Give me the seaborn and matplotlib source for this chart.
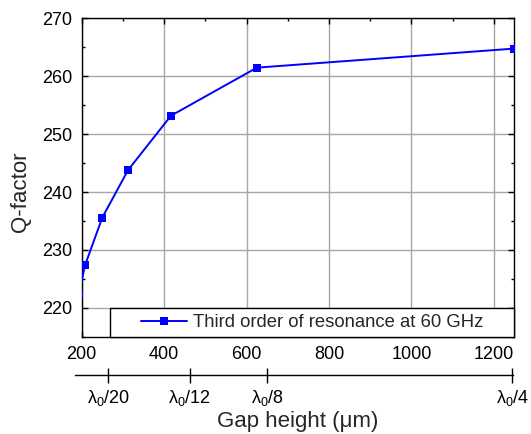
import matplotlib
matplotlib.use("Agg")
import matplotlib.pyplot as plt
from matplotlib.patches import Rectangle
from matplotlib.ticker import MultipleLocator, FixedLocator
import seaborn as sns

# gap height (um) and simulated Q-factor, third order resonance at 60 GHz
gap_um = [192.3, 208.3, 250.0, 312.5, 416.7, 625.0, 1250.0]
q_factor = [222.3, 227.4, 235.6, 243.8, 253.2, 261.5, 264.8]
series_name = "Third order of resonance at 60 GHz"

# secondary wavelength-fraction scale drawn under the x axis
lam_pos = [264.5, 462.5, 651.0, 1246.0]
lam_labels = [r"$\mathregular{\lambda_0}$/20", r"$\mathregular{\lambda_0}$/12",
              r"$\mathregular{\lambda_0}$/8", r"$\mathregular{\lambda_0}$/4"]

sns.set_style("ticks")
plt.rcParams["font.family"] = ["Liberation Sans", "DejaVu Sans"]
plt.rcParams["mathtext.fontset"] = "custom"
plt.rcParams["mathtext.rm"] = "Liberation Sans"
plt.rcParams["mathtext.it"] = "Liberation Sans"

fig = plt.figure(figsize=(5.31, 4.34), dpi=100)
ax = fig.add_axes([0.1539, 0.2242, 0.8147, 0.7332])

sns.lineplot(x=gap_um, y=q_factor, ax=ax, color="#0000ff", marker="s",
             markersize=5.5, markeredgewidth=0, linewidth=1.4, sort=False,
             label=series_name, zorder=4)

ax.set_xlim(200, 1250)
ax.set_ylim(215, 270)
ax.xaxis.set_major_locator(MultipleLocator(200))
ax.xaxis.set_minor_locator(MultipleLocator(100))
ax.yaxis.set_major_locator(MultipleLocator(10))
ax.yaxis.set_minor_locator(MultipleLocator(5))
ax.grid(True, which="major", color="#a8a8a8", linewidth=1.0)
ax.set_axisbelow(True)

ax.tick_params(which="both", direction="in", top=True, right=True,
               labelsize=13, colors="black", width=1.0)
ax.tick_params(which="major", length=4, pad=7)
ax.tick_params(which="minor", length=2.2)
for s in ax.spines.values():
    s.set_color("black")
    s.set_linewidth(1.0)

ax.set_ylabel("Q-factor", fontsize=16)
ax.yaxis.set_label_coords(-0.117, 0.456)
ax.set_xlabel("Gap height (\u03bcm)", fontsize=16)
ax.xaxis.set_label_coords(0.5, -0.235)

# legend box spanning the bottom of the plot
x0 = 0.0654
h = 0.0894
ax.add_patch(Rectangle((x0, 0), 1 - x0, h, transform=ax.transAxes,
                       facecolor="white", edgecolor="black", linewidth=1.0,
                       zorder=5, clip_on=False))
leg = ax.legend(loc="center", bbox_to_anchor=(x0, 0, 1 - x0, h),
                frameon=False, fontsize=13.3, handlelength=2.5,
                handletextpad=0.36, borderpad=0)
leg.set_zorder(6)

# lambda scale
ax2 = fig.add_axes([75 / 531, 1 - 375 / 434, 438.3 / 531, 0.001])
ax2.set_xlim(183.8, 1248.5)
ax2.set_ylim(0, 1)
for side in ["top", "left", "right"]:
    ax2.spines[side].set_visible(False)
ax2.spines["bottom"].set_color("black")
ax2.spines["bottom"].set_linewidth(1.0)
ax2.patch.set_alpha(0)
ax2.set_yticks([])
ax2.xaxis.set_major_locator(FixedLocator(lam_pos))
ax2.set_xticklabels(lam_labels)
ax2.tick_params(axis="x", direction="inout", length=10.8, width=1.0,
                labelsize=13, pad=4, colors="black")

fig.savefig("out.png", dpi=100)
